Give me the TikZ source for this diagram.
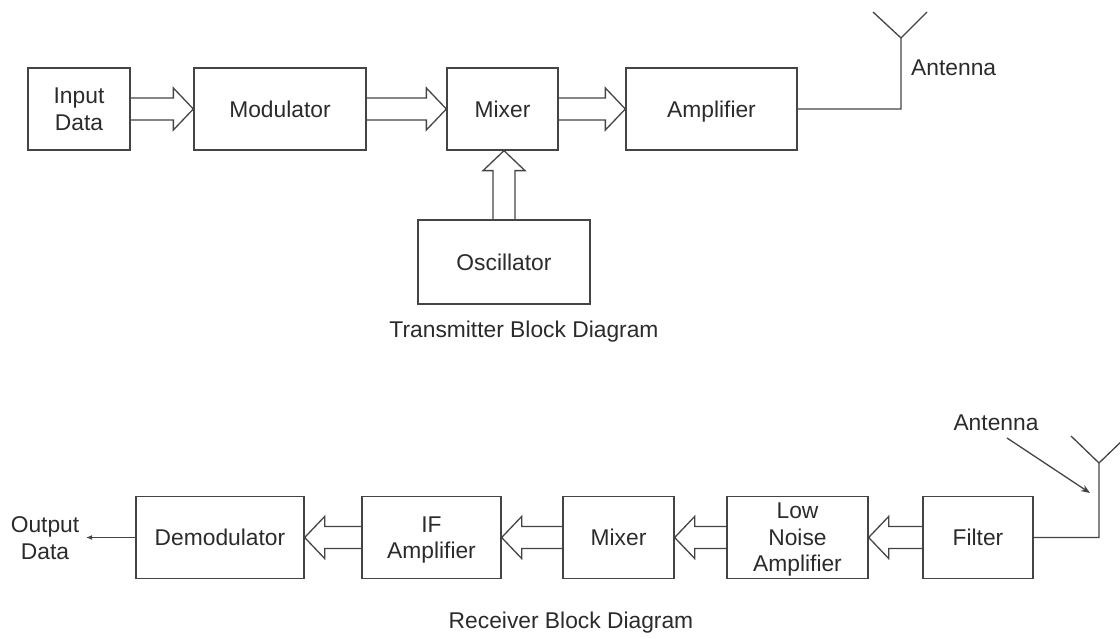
\documentclass[tikz,border=0pt]{standalone}
\usepackage{fontspec}
\setmainfont{Liberation Sans}
\usetikzlibrary{calc,arrows.meta}

\definecolor{linegray}{HTML}{444444}
\definecolor{textgray}{HTML}{2B2B2B}

\tikzset{
  block/.style={draw=linegray, line width=1.3pt, inner sep=0pt, align=center,
    text=textgray, text depth=0pt, font=\fontsize{22.8}{26.5}\selectfont},
  caption/.style={inner sep=0pt, align=center, text=textgray,
    font=\fontsize{22.8}{26.5}\selectfont},
  hollow/.style={draw=linegray, line width=1.3pt, line join=miter},
  wire/.style={draw=linegray, line width=1.3pt},
}

% hollow block arrow from #1 (tail) to #2 (tip)
\newcommand{\hollowarrow}[2]{%
  \coordinate (ha-s) at (#1);
  \coordinate (ha-t) at (#2);
  \coordinate (ha-h) at ($(ha-t)!20pt!(ha-s)$);
  \draw[hollow] ($(ha-s)!11pt!90:(ha-t)$) -- ($(ha-h)!11pt!90:(ha-t)$)
    -- ($(ha-h)!21pt!90:(ha-t)$) -- (ha-t) -- ($(ha-h)!21pt!-90:(ha-t)$)
    -- ($(ha-h)!11pt!-90:(ha-t)$) -- ($(ha-s)!11pt!-90:(ha-t)$);
}

\begin{document}
\begin{tikzpicture}[x=1pt,y=-1pt]
  \useasboundingbox (0,0) rectangle (1120,639);

  % transmitter
  \node[block, minimum width=102pt, minimum height=82pt] (inp)  at (79,109)    {Input\\Data};
  \node[block, minimum width=172pt, minimum height=82pt] (mod)  at (280,109)   {Modulator};
  \node[block, minimum width=111pt, minimum height=82pt] (mixt) at (502.5,109) {Mixer};
  \node[block, minimum width=171pt, minimum height=82pt] (amp)  at (711.5,109) {Amplifier};
  \node[block, minimum width=172pt, minimum height=84pt] (osc)  at (504,262)   {Oscillator};
  \node[caption] (txcap) at (524,332) {Transmitter Block Diagram};

  \hollowarrow{inp.east}{mod.west}
  \hollowarrow{mod.east}{mixt.west}
  \hollowarrow{mixt.east}{amp.west}
  \hollowarrow{osc.north}{osc.north |- mixt.south}

  \coordinate (txant) at (901,38);
  \draw[wire] (amp.east) -| (txant) (873,12) -- (txant) -- (927,12);
  \node[caption, anchor=west] (txantlbl) at (911,68) {Antenna};

  % receiver
  \node[block, minimum width=168pt, minimum height=82pt] (demod) at (220,537.5)   {Demodulator};
  \node[block, minimum width=139pt, minimum height=82pt] (ifamp) at (431.5,537.5) {IF\\Amplifier};
  \node[block, minimum width=111pt, minimum height=82pt] (mixr)  at (618.5,537.5) {Mixer};
  \node[block, minimum width=141pt, minimum height=82pt] (lna)   at (797.5,537.5) {Low\\Noise\\Amplifier};
  \node[block, minimum width=110pt, minimum height=82pt] (filt)  at (978,537.5)   {Filter};
  \node[caption] (rxcap) at (571,623) {Receiver Block Diagram};

  \hollowarrow{filt.west}{lna.east}
  \hollowarrow{lna.west}{mixr.east}
  \hollowarrow{mixr.west}{ifamp.east}
  \hollowarrow{ifamp.west}{demod.east}

  \node[caption] (outdata) at (45,538) {Output\\Data};
  \coordinate (outend) at (86,537.5);
  \draw[wire, -{Latex[length=6pt,width=5pt]}] (demod.west) -- (outend);

  \coordinate (rxant) at (1099,463);
  \draw[wire] (filt.east) -| (rxant) (1071,436) -- (rxant) -- (1127,436);
  \node[caption] (rxantlbl) at (996,423) {Antenna};
  \coordinate (rxstart) at (1007,438);
  \coordinate (rxpoint) at (1090,493);
  \draw[wire, -{Stealth[length=9pt,width=7pt]}] (rxstart) -- (rxpoint);
\end{tikzpicture}
\end{document}
